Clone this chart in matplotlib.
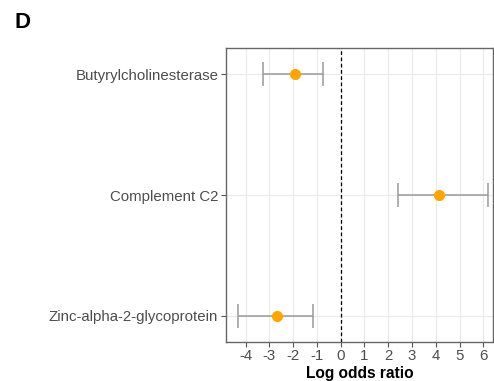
import matplotlib
matplotlib.use("Agg")
import matplotlib.pyplot as plt

# Log odds ratio estimates with 95% CI per protein
proteins = ["Zinc-alpha-2-glycoprotein", "Complement C2", "Butyrylcholinesterase"]
log_or = [-2.66, 4.12, -1.93]
ci_low = [-4.30, 2.42, -3.25]
ci_high = [-1.15, 6.20, -0.76]

x_ticks = list(range(-4, 7))

plt.rcParams["font.family"] = ["Liberation Sans", "DejaVu Sans"]

fig = plt.figure(figsize=(4.94, 3.81), dpi=100)
ax = fig.add_axes([226 / 494, 1 - 341.7 / 381, (493 - 226) / 494, (341.7 - 48) / 381])

ypos = list(range(1, len(proteins) + 1))
err = [[m - lo for m, lo in zip(log_or, ci_low)],
       [hi - m for m, hi in zip(log_or, ci_high)]]

ax.errorbar(log_or, ypos, xerr=err, fmt="none", ecolor="#9a9a9a",
            elinewidth=1.1, capsize=8.6, capthick=1.1, zorder=3)
ax.plot(log_or, ypos, "o", color="#FFA500", markersize=7, zorder=4)
ax.axvline(0, color="black", linestyle=(0, (3, 2)), linewidth=0.9, zorder=2)

ax.set_xlim(-4.82, 6.4)
ax.set_ylim(0.785, 3.218)
ax.set_xticks(x_ticks)
ax.set_xticklabels([str(v) for v in x_ticks])
ax.set_yticks(ypos)
ax.set_yticklabels(proteins)

ax.grid(True, color="#ebebeb", linewidth=0.9, zorder=0)
ax.set_axisbelow(True)
for s in ax.spines.values():
    s.set_color("#666666")
    s.set_linewidth(1.0)
ax.tick_params(axis="both", colors="#555555", labelcolor="#4d4d4d",
               labelsize=10.8, length=3.5, width=0.8, pad=2)

ax.set_xlabel("Log odds ratio", fontsize=11.2, fontweight="bold", labelpad=2)

fig.text(14 / 494, 1 - 22 / 381, "D", fontsize=16, fontweight="bold",
         va="center", ha="left")

fig.savefig("out.png", dpi=100)
